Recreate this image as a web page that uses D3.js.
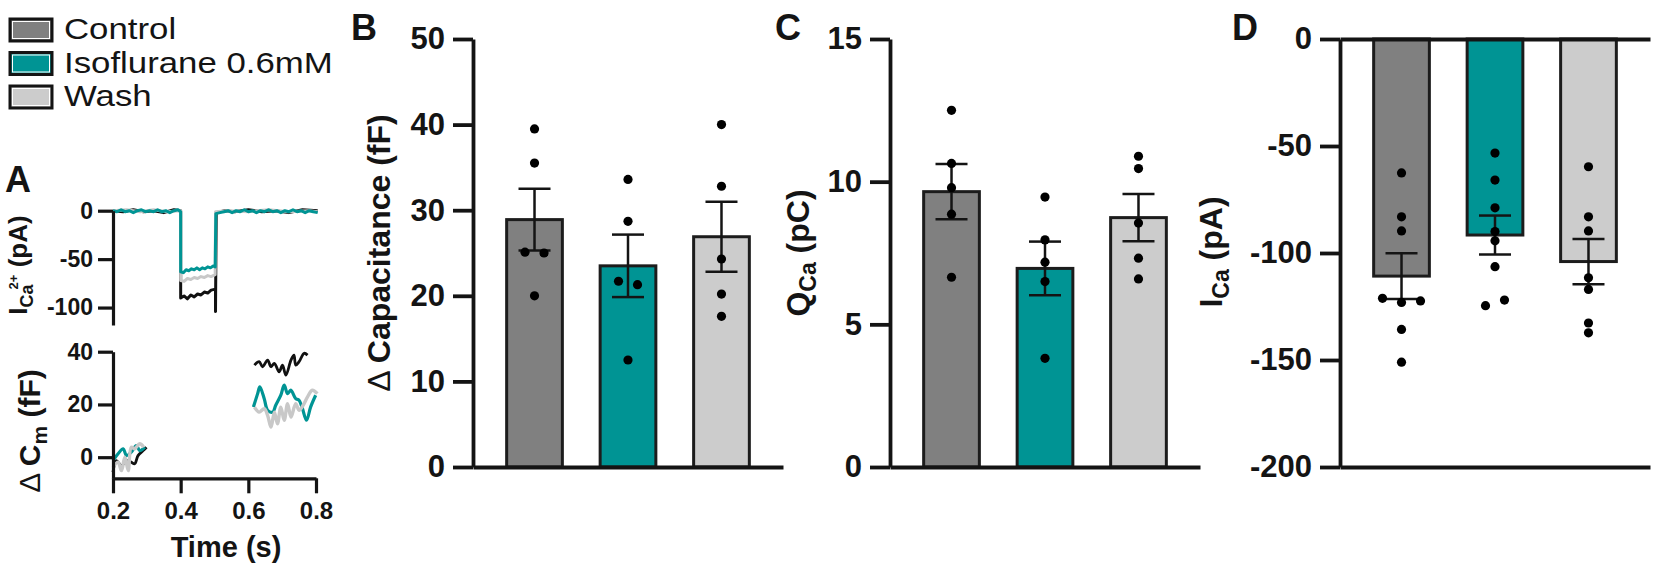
<!DOCTYPE html>
<html>
<head>
<meta charset="utf-8">
<script src="https://cdn.jsdelivr.net/npm/d3@7"></script>
<style>
body{margin:0;background:#fff;}
svg{display:block;font-family:"Liberation Sans",Arial,Helvetica,sans-serif;}
</style>
</head>
<body>
<svg id="fig" width="1654" height="568"></svg>
<script>
const groups = ["Control", "Isoflurane 0.6mM", "Wash"];
const groupColors = ["#808080", "#009494", "#cccccc"];
const traceColors = ["#111111", "#009494", "#c8c8c8"];

// panel B - delta capacitance (fF)
const capTicks = [0, 10, 20, 30, 40, 50];
const capMean = [28.9, 23.5, 26.9];
const capSem = [3.6, 3.65, 4.1];
const capDots = [
    [39.5, 35.5, 25.1, 25.0, 20.0],
    [33.6, 28.7, 21.7, 21.3, 12.5],
    [40.0, 32.8, 24.3, 20.2, 17.6]
];

// panel C - Q Ca (pC)
const qTicks = [0, 5, 10, 15];
const qMean = [9.65, 6.96, 8.74];
const qSem = [0.97, 0.94, 0.83];
const qDots = [
    [12.5, 10.64, 9.79, 8.86, 6.65],
    [9.46, 7.96, 7.18, 6.5, 3.81],
    [10.89, 10.46, 8.55, 7.32, 6.59]
];

// panel D - I Ca (pA)
const iTicks = [0, -50, -100, -150, -200];
const iMean = [-110.8, -91.6, -104.0];
const iSem = [10.7, 9.1, 10.6];
const iDots = [
    [-62.6, -83.1, -89.7, -121.2, -123.1, -122.4, -135.7, -151.0],
    [-53.3, -65.9, -78.9, -90.0, -94.3, -106.4, -124.6, -122.0],
    [-59.7, -83.1, -89.7, -111.6, -117.0, -132.7, -137.3]
];

// panel A - example traces, [time s, value]
const timeTicks = [0.2, 0.4, 0.6, 0.8];
const currentTicks = [0, -50, -100];
const cmTicks = [0, 20, 40];

const currentControl = [[0.2,0],[0.23,-1],[0.26,1],[0.29,-1],[0.32,0],[0.35,-2],[0.38,1],[0.4,0],[0.4,-90],[0.41,-88],[0.42,-91],[0.43,-87],[0.44,-89],[0.45,-86],[0.46,-87],[0.47,-84],[0.48,-85],[0.49,-82],[0.503,-81],[0.503,-104],[0.505,-2],[0.53,0],[0.56,-1],[0.6,1],[0.64,-1],[0.68,0],[0.72,-2],[0.76,1],[0.805,0]];
const currentIso = [[0.2,0],[0.212,-1],[0.224,1],[0.236,-1],[0.248,0],[0.26,-2],[0.272,0],[0.284,1],[0.296,-1],[0.308,0],[0.32,-1],[0.332,1],[0.344,-1],[0.356,0],[0.368,-2],[0.38,0],[0.392,1],[0.4,-1],[0.4,-63],[0.408,-64],[0.416,-61],[0.424,-62],[0.432,-60],[0.44,-61],[0.448,-59],[0.456,-61],[0.464,-59],[0.472,-60],[0.48,-58],[0.488,-59],[0.496,-57],[0.502,-58],[0.504,-3],[0.516,-2],[0.528,-1],[0.54,0],[0.552,-2],[0.564,0],[0.576,-1],[0.588,1],[0.6,-1],[0.612,0],[0.624,-2],[0.636,0],[0.648,-1],[0.66,1],[0.672,-1],[0.684,0],[0.696,-2],[0.708,0],[0.72,-1],[0.732,1],[0.744,-1],[0.756,0],[0.768,-2],[0.78,0],[0.792,-1],[0.805,-2]];
const currentWash = [[0.2,0],[0.24,1],[0.28,-1],[0.32,1],[0.36,-1],[0.4,0],[0.4,-72],[0.41,-73],[0.42,-70],[0.43,-71],[0.44,-69],[0.45,-70],[0.46,-68],[0.47,-69],[0.48,-67],[0.49,-68],[0.502,-66],[0.503,-1],[0.54,0],[0.6,-1],[0.66,1],[0.72,-1],[0.78,0],[0.805,-1]];

const cmControl = [
    [[0.2,-5.7],[0.21,-1.3],[0.225,-3.2],[0.24,-1.3],[0.254,-1.9],[0.264,-2.5],[0.274,0.6],[0.289,2.5],[0.299,3.8]],
    [[0.618,34.9],[0.632,36.2],[0.642,34.3],[0.657,36.8],[0.667,34.3],[0.677,35.6],[0.691,32.4],[0.701,34.9],[0.711,31.1],[0.726,36.8],[0.735,38.7],[0.74,34.9],[0.75,36.2],[0.765,39.4],[0.775,38.7]]
];
const cmIso = [
    [[0.2,-1.3],[0.215,1.3],[0.23,3.2],[0.24,0.6],[0.254,1.9],[0.269,4.4],[0.279,2.5],[0.294,3.8]],
    [[0.615,19.0],[0.6275,24.1],[0.634,26.7],[0.647,22.2],[0.657,17.8],[0.672,17.1],[0.681,19.7],[0.696,23.5],[0.706,27.3],[0.716,24.1],[0.7255,25.4],[0.74,22.2],[0.75,21.6],[0.76,18.4],[0.772,14.0],[0.784,19.0],[0.799,23.5]]
];
const cmWash = [
    [[0.2,-3.8],[0.215,-1.9],[0.225,-5.1],[0.235,0],[0.245,-5.1],[0.254,3.8],[0.264,3.2],[0.279,5.1],[0.291,3.8]],
    [[0.618,19.0],[0.632,17.1],[0.647,18.4],[0.657,15.9],[0.667,11.4],[0.677,17.1],[0.686,12.7],[0.696,19.0],[0.706,14.0],[0.716,20.3],[0.726,15.2],[0.74,20.3],[0.75,17.8],[0.762,19.7],[0.775,22.9],[0.789,25.4],[0.804,24.1]]
];

const ink = "#141414";
const svg = d3.select("#fig");

const styleAxis = (g, size, width) =>
{
    g.select(".domain").attr("stroke", ink).attr("stroke-width", width);
    g.selectAll(".tick line").attr("stroke", ink).attr("stroke-width", width);
    g.selectAll(".tick text").attr("fill", ink).attr("font-size", size).attr("font-weight", "bold");
};

const rotLabel = (x, y, size, parts) =>
{
    const t = svg.append("text")
        .attr("transform", `translate(${x},${y}) rotate(-90)`)
        .attr("text-anchor", "middle")
        .attr("font-size", size)
        .attr("font-weight", "bold")
        .attr("fill", ink);
    parts.forEach(p =>
    {
        t.append("tspan")
            .attr("dx", p.dx || 0)
            .attr("dy", p.dy || 0)
            .attr("font-size", p.size || null)
            .attr("font-weight", p.w || null)
            .text(p.text);
    });
};

// group dots that sit at almost the same height into a centred row
const placeDots = (vals, y) =>
{
    const out = [];
    let row = [];
    const flush = () =>
    {
        row.forEach((v, k) => out.push({v: v, dx: (k - (row.length - 1) / 2) * 19}));
        row = [];
    };
    vals.forEach(v =>
    {
        if (row.length && Math.abs(y(v) - y(row[0])) > 7) flush();
        row.push(v);
    });
    flush();
    return out;
};

const barPanel = (opt) =>
{
    const x = d3.scaleBand().domain(groups)
        .range([opt.left, opt.left + 310])
        .paddingInner(0.372).paddingOuter(0.344);
    const y = d3.scaleLinear().domain(opt.domain).range([467, 39]);
    const g = svg.append("g");

    g.selectAll(".bar")
        .data(groups)
        .enter()
        .append("rect")
        .attr("x", d => x(d) + 1.5)
        .attr("width", x.bandwidth() - 3)
        .attr("y", (d, i) => Math.min(y(opt.mean[i]), y(0)))
        .attr("height", (d, i) => Math.abs(y(opt.mean[i]) - y(0)))
        .attr("fill", (d, i) => groupColors[i])
        .attr("stroke", "#1c1c1c")
        .attr("stroke-width", 3);

    const yAxis = g.append("g")
        .attr("transform", `translate(${opt.left},0)`)
        .call(d3.axisLeft(y).tickValues(opt.ticks).tickSize(20).tickSizeOuter(0).tickPadding(8).tickFormat(String));
    styleAxis(yAxis, 31, 3.8);

    opt.baseLines.forEach(v =>
    {
        const xa = g.append("g")
            .attr("transform", `translate(0,${y(v)})`)
            .call(d3.axisBottom(x).tickSize(0).tickSizeOuter(0).tickFormat(""));
        styleAxis(xa, 0, 3.8);
    });

    // error bars (mean +/- sem)
    groups.forEach((d, i) =>
    {
        const cx = x(d) + x.bandwidth() / 2;
        const lo = y(opt.mean[i] - opt.sem[i]);
        const hi = y(opt.mean[i] + opt.sem[i]);
        const eb = g.append("g").attr("stroke", ink).attr("stroke-width", 2.5);
        eb.append("line").attr("x1", cx).attr("x2", cx).attr("y1", lo).attr("y2", hi);
        eb.append("line").attr("x1", cx - 16).attr("x2", cx + 16).attr("y1", lo).attr("y2", lo);
        eb.append("line").attr("x1", cx - 16).attr("x2", cx + 16).attr("y1", hi).attr("y2", hi);
    });

    groups.forEach((d, i) =>
    {
        const cx = x(d) + x.bandwidth() / 2;
        g.selectAll(null)
            .data(placeDots(opt.dots[i], y))
            .enter()
            .append("circle")
            .attr("cx", p => cx + p.dx)
            .attr("cy", p => y(p.v))
            .attr("r", 4.6)
            .attr("fill", "#000");
    });
};

barPanel({left: 473, domain: [0, 50], ticks: capTicks, mean: capMean, sem: capSem, dots: capDots, baseLines: [0]});
barPanel({left: 890, domain: [0, 15], ticks: qTicks, mean: qMean, sem: qSem, dots: qDots, baseLines: [0]});
barPanel({left: 1340, domain: [-200, 0], ticks: iTicks, mean: iMean, sem: iSem, dots: iDots, baseLines: [0, -200]});

rotLabel(390, 253, 32, [{text: "\u0394 ", w: "normal"}, {text: "Capacitance (fF)"}]);
rotLabel(809, 253, 32, [{text: "Q"}, {text: "Ca", size: 23, dy: 7}, {text: " (pC)", dy: -7}]);
rotLabel(1222, 252, 32, [{text: "I"}, {text: "Ca", size: 23, dy: 7}, {text: " (pA)", dy: -7}]);

// panel A
const xT = d3.scaleLinear().domain([0.2, 0.8]).range([113, 316]);
const yI = d3.scaleLinear().domain([-118, 0]).range([325, 210.7]);
const yC = d3.scaleLinear().domain([-8, 40]).range([478.3, 351.7]);

const lineI = d3.line().x(d => xT(d[0])).y(d => yI(d[1]));
const lineC = d3.line().x(d => xT(d[0])).y(d => yC(d[1])).curve(d3.curveCatmullRom);

[currentControl, currentWash, currentIso].forEach((tr, k) =>
{
    svg.append("path")
        .datum(tr)
        .attr("d", lineI)
        .attr("fill", "none")
        .attr("stroke", [traceColors[0], traceColors[2], traceColors[1]][k])
        .attr("stroke-width", 3)
        .attr("stroke-linejoin", "round");
});

[[cmControl, traceColors[0], 2.8], [cmIso, traceColors[1], 3.2], [cmWash, traceColors[2], 3.4]].forEach(([segs, col, w]) =>
{
    segs.forEach(seg =>
    {
        svg.append("path")
            .datum(seg)
            .attr("d", lineC)
            .attr("fill", "none")
            .attr("stroke", col)
            .attr("stroke-width", w)
            .attr("stroke-linejoin", "round");
    });
});

const axI = svg.append("g").attr("transform", "translate(113,0)")
    .call(d3.axisLeft(yI).tickValues(currentTicks).tickSize(15).tickSizeOuter(0).tickPadding(5).tickFormat(String));
styleAxis(axI, 23, 3.2);
const axC = svg.append("g").attr("transform", "translate(113,0)")
    .call(d3.axisLeft(yC).tickValues(cmTicks).tickSize(15).tickSizeOuter(0).tickPadding(5).tickFormat(String));
styleAxis(axC, 23, 3.2);
const axT = svg.append("g").attr("transform", `translate(0,${yC(-8)})`)
    .call(d3.axisBottom(xT).tickValues(timeTicks).tickSize(15).tickSizeOuter(0).tickPadding(9).tickFormat(d3.format(".1f")));
styleAxis(axT, 24, 3.2);

svg.append("text")
    .attr("x", 226).attr("y", 557)
    .attr("text-anchor", "middle")
    .attr("font-size", 29).attr("font-weight", "bold").attr("fill", ink)
    .text("Time (s)");

rotLabel(27, 265, 26, [{text: "I"}, {text: "Ca", size: 18, dy: 6}, {text: "2+", size: 13, dx: -5, dy: -15}, {text: " (pA)", dy: 9}]);
rotLabel(40, 431, 30, [{text: "\u0394 ", w: "normal"}, {text: "C"}, {text: "m", size: 21, dy: 7}, {text: " (fF)", dy: -7}]);

// legend
const leg = svg.append("g");
groups.forEach((d, i) =>
{
    const top = 19 + i * 33.5;
    leg.append("rect").attr("x", 10).attr("y", top).attr("width", 42).attr("height", 22)
        .attr("fill", groupColors[i]).attr("stroke", ink).attr("stroke-width", 3);
    leg.append("rect").attr("x", 12.5).attr("y", top + 2.5).attr("width", 37).attr("height", 17)
        .attr("fill", "none").attr("stroke", "#fff").attr("stroke-width", 1);
    leg.append("text")
        .attr("transform", `translate(64,${top + 20}) scale(1.16,1)`)
        .attr("font-size", 30).attr("fill", ink)
        .text(d);
});

// panel letters
[["A", 5, 192], ["B", 351, 40], ["C", 775, 40], ["D", 1232, 40]].forEach(([t, x, y]) =>
{
    svg.append("text").attr("x", x).attr("y", y)
        .attr("font-size", 36).attr("font-weight", "bold").attr("fill", ink)
        .text(t);
});
</script>
</body>
</html>
